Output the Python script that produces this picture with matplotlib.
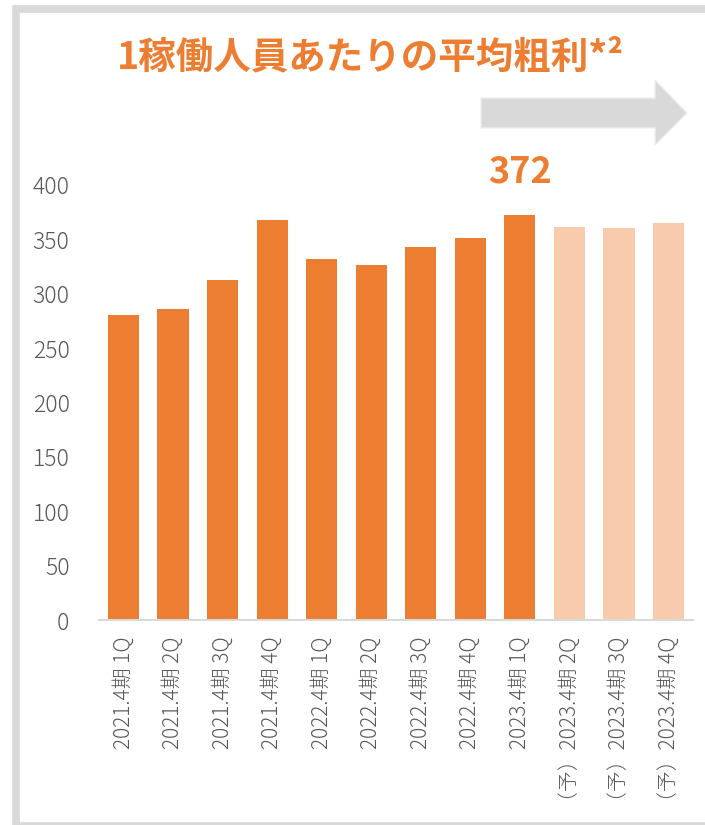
import matplotlib
matplotlib.use("Agg")
import matplotlib.pyplot as plt
from matplotlib.patches import Polygon, Rectangle

plt.rcParams["font.family"] = ["Noto Sans CJK JP", "DejaVu Sans"]

# data
periods = ["2021.4期 1Q", "2021.4期 2Q", "2021.4期 3Q", "2021.4期 4Q",
           "2022.4期 1Q", "2022.4期 2Q", "2022.4期 3Q", "2022.4期 4Q",
           "2023.4期 1Q", "（予）2023.4期 2Q", "（予）2023.4期 3Q", "（予）2023.4期 4Q"]
profit = [280, 286, 313, 368, 332, 326, 343, 351, 372, 361, 360, 365]
is_forecast = [False] * 9 + [True] * 3
highlight_idx = 8
y_ticks = [0, 50, 100, 150, 200, 250, 300, 350, 400]

ACTUAL = "#ED7D31"
FORECAST = "#F8CBAD"
GREY_TXT = "#595959"
LINE = "#D9D9D9"

W, H = 705, 825
fig = plt.figure(figsize=(W / 100, H / 100), dpi=100)


def fx(px):
    return px / W


def fy(py):
    return 1 - py / H


ax = fig.add_axes([fx(98.75), fy(620), fx(693.25) - fx(98.75), fy(185) - fy(620)])

colors = [FORECAST if f else ACTUAL for f in is_forecast]
x = range(len(profit))
ax.bar(x, profit, width=0.63, color=colors, zorder=2)
ax.set_xlim(-0.5, len(profit) - 0.5)
ax.set_ylim(0, 400)
ax.set_yticks(y_ticks)
ax.set_xticks(list(x))
ax.set_xticklabels(periods, rotation=90, ha="center", va="top",
                   fontsize=15, color=GREY_TXT, fontweight="light")
ax.tick_params(axis="y", length=0, pad=21, labelsize=16.5, labelcolor=GREY_TXT)
for lbl in ax.get_yticklabels():
    lbl.set_fontweight("light")
ax.tick_params(axis="x", length=0, pad=12)
for s in ["top", "right", "left"]:
    ax.spines[s].set_visible(False)
ax.spines["bottom"].set_color(LINE)
ax.spines["bottom"].set_linewidth(1.5)

ax.text(highlight_idx, profit[highlight_idx] + 23, str(profit[highlight_idx]),
        ha="center", va="bottom", fontsize=26, fontweight="bold", color=ACTUAL)

fig.text(fx(370), fy(57), "1稼働人員あたりの平均粗利*²", ha="center", va="center",
         fontsize=27, fontweight="bold", color=ACTUAL)

# grey block arrow pointing at the forecast part
arrow_pts = [(481, 98), (655, 98), (655, 80), (687, 113), (655, 145),
             (655, 128), (481, 128)]
fig.patches.append(Polygon([(fx(a), fy(b)) for a, b in arrow_pts], closed=True,
                           transform=fig.transFigure, facecolor="#D9D9D9",
                           edgecolor="#EEEEEE", linewidth=1))

# outer frame
fig.patches.append(Rectangle((fx(16), fy(826)), fx(760) - fx(16), fy(8.5) - fy(826),
                             transform=fig.transFigure, fill=False,
                             edgecolor=LINE, linewidth=5.5))

fig.savefig("out.png", dpi=100)
